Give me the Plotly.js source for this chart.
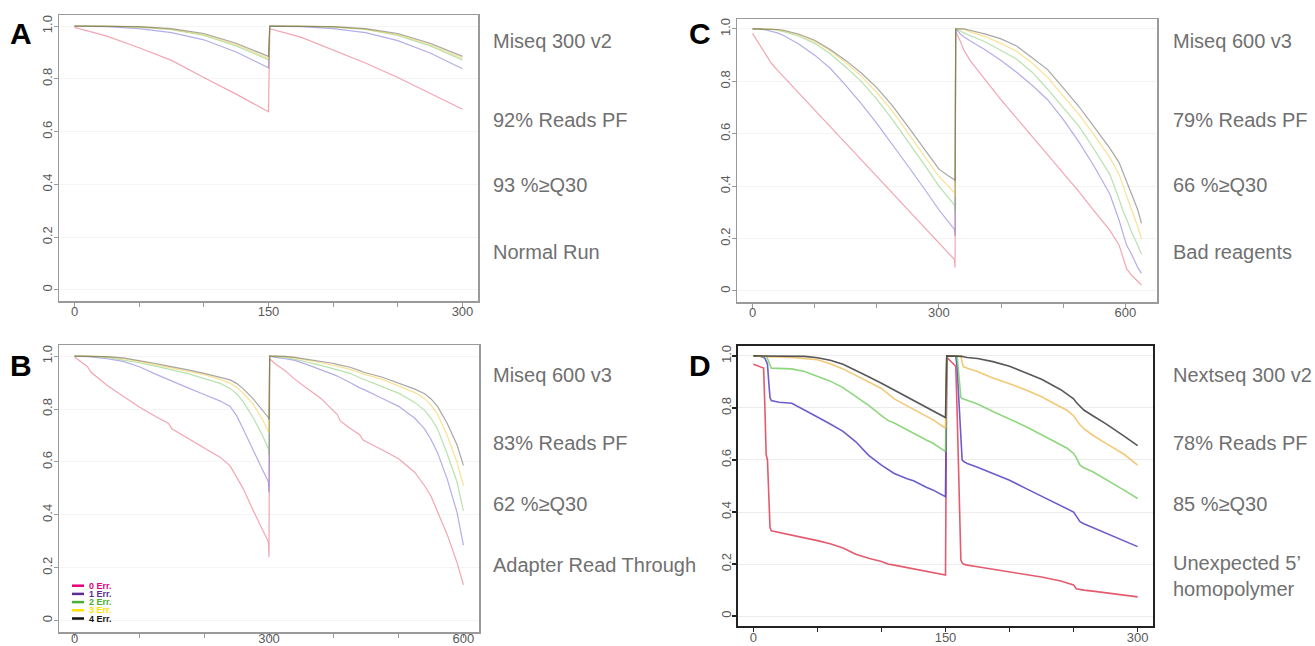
<!DOCTYPE html>
<html>
<head>
<meta charset="utf-8">
<script src="https://cdn.plot.ly/plotly-3.0.1.min.js"></script>
<style>html,body{margin:0;padding:0;background:#fff;}#chart{width:1315px;height:646px;}</style>
</head>
<body>
<div id="chart"></div>
<script>
// ---------- DATA ----------
const errLabels = ['0 Err.', '1 Err.', '2 Err.', '3 Err.', '4 Err.'];

// Panel A: Miseq 300 v2
const A_cycles = [0,25,50,75,100,125,150,151,175,200,225,250,275,300];
const A_err0 = [0.995,0.962,0.918,0.87,0.805,0.742,0.675,0.99,0.958,0.91,0.86,0.805,0.745,0.685];
const A_err1 = [1.0,0.998,0.99,0.975,0.948,0.902,0.842,1.0,0.998,0.99,0.975,0.945,0.898,0.838];
const A_err2 = [1.0,1.0,0.996,0.986,0.965,0.925,0.872,1.0,1.0,0.996,0.987,0.965,0.925,0.872];
const A_err3 = [1.0,1.0,0.997,0.988,0.968,0.93,0.878,1.0,1.0,0.997,0.988,0.968,0.93,0.878];
const A_err4 = [1.0,1.0,0.998,0.99,0.972,0.935,0.885,1.0,1.0,0.998,0.99,0.972,0.935,0.885];
const A_text = ['Miseq 300 v2', '92% Reads PF', '93 %≥Q30', 'Normal Run'];

// Panel B: Miseq 600 v3, adapter read through
const B_cycles = [0,10,20,25,50,75,100,125,145,150,175,200,225,240,250,260,275,290,299,300,301,310,325,340,360,380,400,405,410,425,440,445,475,500,525,540,550,560,575,590,600];
const B_err0 = [0.997,0.98,0.96,0.94,0.89,0.848,0.808,0.772,0.745,0.725,0.69,0.655,0.617,0.585,0.545,0.5,0.42,0.34,0.298,0.24,0.99,0.97,0.945,0.912,0.875,0.84,0.792,0.78,0.755,0.727,0.703,0.683,0.645,0.612,0.56,0.51,0.47,0.41,0.325,0.22,0.135];
const B_err1 = [1.0,1.0,0.998,0.997,0.99,0.98,0.96,0.932,0.91,0.905,0.88,0.855,0.83,0.81,0.775,0.725,0.645,0.57,0.525,0.485,1.0,0.995,0.99,0.984,0.967,0.95,0.93,0.925,0.918,0.9,0.88,0.875,0.84,0.81,0.765,0.725,0.685,0.635,0.535,0.41,0.285];
const B_err2 = [1.0,1.0,1.0,0.999,0.995,0.985,0.975,0.962,0.95,0.948,0.934,0.915,0.897,0.878,0.858,0.828,0.77,0.7,0.65,0.625,1.0,0.999,0.995,0.988,0.977,0.965,0.952,0.948,0.944,0.935,0.918,0.913,0.885,0.86,0.825,0.795,0.765,0.725,0.63,0.525,0.415];
const B_err3 = [1.0,1.0,1.0,1.0,0.997,0.99,0.98,0.968,0.957,0.955,0.943,0.93,0.912,0.897,0.882,0.86,0.82,0.76,0.715,0.71,1.0,1.0,0.998,0.993,0.985,0.975,0.965,0.962,0.958,0.95,0.937,0.933,0.912,0.888,0.862,0.84,0.815,0.78,0.7,0.6,0.51];
const B_err4 = [1.0,1.0,1.0,1.0,0.998,0.993,0.983,0.972,0.962,0.96,0.948,0.935,0.92,0.91,0.897,0.877,0.84,0.795,0.768,0.76,1.0,1.0,0.999,0.995,0.988,0.98,0.972,0.969,0.966,0.958,0.945,0.94,0.92,0.898,0.875,0.858,0.838,0.81,0.745,0.665,0.587];
const B_text = ['Miseq 600 v3', '83% Reads PF', '62 %≥Q30', 'Adapter Read Through'];

// Panel C: Miseq 600 v3, bad reagents
const C_cycles = [0,10,20,30,40,50,75,100,125,150,175,200,225,250,275,300,315,325,326,327,335,340,350,375,400,425,450,475,500,525,550,575,590,597,602,610,620,626];
const C_err0 = [0.983,0.945,0.905,0.87,0.843,0.818,0.754,0.69,0.627,0.564,0.5,0.437,0.374,0.31,0.247,0.183,0.145,0.12,0.09,0.99,0.95,0.92,0.88,0.803,0.729,0.66,0.59,0.52,0.45,0.38,0.305,0.232,0.175,0.125,0.085,0.06,0.038,0.023];
const C_err1 = [1.0,1.0,0.997,0.992,0.985,0.975,0.942,0.9,0.85,0.785,0.715,0.64,0.56,0.478,0.395,0.31,0.265,0.235,0.21,1.0,0.98,0.97,0.955,0.92,0.88,0.835,0.785,0.73,0.655,0.57,0.475,0.37,0.27,0.21,0.175,0.14,0.09,0.067];
const C_err2 = [1.0,1.0,1.0,0.998,0.995,0.99,0.972,0.945,0.905,0.855,0.8,0.732,0.655,0.572,0.487,0.4,0.355,0.328,0.3,1.0,0.992,0.985,0.975,0.95,0.918,0.885,0.835,0.77,0.7,0.63,0.54,0.445,0.35,0.3,0.275,0.225,0.175,0.14];
const C_err3 = [1.0,1.0,1.0,0.999,0.997,0.993,0.977,0.952,0.917,0.872,0.82,0.757,0.687,0.605,0.522,0.437,0.4,0.375,0.36,1.0,1.0,0.998,0.99,0.97,0.945,0.915,0.87,0.815,0.745,0.675,0.595,0.51,0.445,0.395,0.365,0.31,0.245,0.2];
const C_err4 = [1.0,1.0,1.0,1.0,0.998,0.995,0.98,0.957,0.922,0.88,0.832,0.776,0.707,0.628,0.547,0.465,0.44,0.425,0.42,1.0,1.0,1.0,0.995,0.98,0.962,0.935,0.89,0.845,0.775,0.705,0.625,0.545,0.49,0.45,0.42,0.37,0.31,0.258];
const C_text = ['Miseq 600 v3', '79% Reads PF', '66 %≥Q30', 'Bad reagents'];

// Panel D: Nextseq 300 v2, unexpected 5' homopolymer
const D_cycles = [0,4,8,9,10,11,12,13,14,20,30,40,50,60,70,80,90,100,105,110,120,125,135,140,150,151,155,158,159,160,161,162,163,164,166,167,175,187,200,213,225,240,245,250,252,255,258,265,275,290,300];
const D_err0 = [0.968,0.962,0.953,0.8,0.62,0.6,0.45,0.34,0.328,0.322,0.312,0.302,0.29,0.278,0.262,0.238,0.222,0.21,0.2,0.196,0.186,0.182,0.172,0.168,0.158,0.995,0.975,0.96,0.8,0.6,0.4,0.215,0.205,0.2,0.197,0.196,0.19,0.18,0.17,0.16,0.15,0.135,0.128,0.12,0.105,0.102,0.1,0.096,0.09,0.08,0.074];
const D_err1 = [1.0,1.0,0.995,0.99,0.98,0.968,0.9,0.84,0.828,0.822,0.818,0.79,0.765,0.738,0.71,0.67,0.618,0.58,0.563,0.548,0.528,0.52,0.495,0.485,0.459,1.0,1.0,1.0,0.96,0.88,0.8,0.7,0.6,0.595,0.588,0.586,0.572,0.548,0.522,0.49,0.46,0.425,0.413,0.4,0.385,0.363,0.355,0.34,0.32,0.287,0.267];
const D_err2 = [1.0,1.0,1.0,1.0,0.998,0.99,0.98,0.965,0.953,0.952,0.95,0.94,0.922,0.903,0.878,0.845,0.81,0.77,0.752,0.742,0.715,0.703,0.677,0.665,0.632,1.0,1.0,1.0,1.0,0.95,0.9,0.84,0.836,0.834,0.831,0.83,0.815,0.786,0.758,0.728,0.697,0.66,0.645,0.625,0.61,0.58,0.57,0.555,0.527,0.482,0.452];
const D_err3 = [1.0,1.0,1.0,1.0,0.998,0.997,0.997,0.997,0.996,0.996,0.994,0.99,0.985,0.97,0.95,0.925,0.9,0.875,0.855,0.835,0.808,0.795,0.768,0.755,0.722,1.0,1.0,1.0,1.0,1.0,1.0,1.0,0.975,0.958,0.955,0.952,0.94,0.915,0.893,0.869,0.843,0.805,0.79,0.77,0.755,0.735,0.72,0.695,0.665,0.62,0.58];
const D_err4 = [1.0,1.0,1.0,1.0,1.0,1.0,1.0,1.0,1.0,1.0,1.0,0.998,0.993,0.983,0.968,0.945,0.92,0.895,0.882,0.87,0.843,0.83,0.803,0.79,0.763,1.0,1.0,1.0,1.0,1.0,1.0,1.0,0.998,0.997,0.995,0.994,0.99,0.978,0.96,0.935,0.91,0.87,0.852,0.835,0.822,0.805,0.792,0.77,0.74,0.69,0.655];
const D_text = ['Nextseq 300 v2', '78% Reads PF', '85 %≥Q30', 'Unexpected 5’<br>homopolymer'];

const yTickVals = [0, 0.2, 0.4, 0.6, 0.8, 1.0];
const yTickText = ['0', '0.2', '0.4', '0.6', '0.8', '1.0'];

// ---------- STYLE ----------
const W = 1315, H = 646;
const FONT = 'Liberation Sans, Arial, sans-serif';
const paleColors = ['rgba(228,70,95,0.48)', 'rgba(95,85,205,0.48)', 'rgba(105,195,85,0.48)', 'rgba(245,200,60,0.55)', 'rgba(80,80,80,0.5)'];
const strongColors = ['rgba(222,62,85,0.85)', 'rgba(85,72,195,0.88)', 'rgba(115,205,95,0.8)', 'rgba(240,192,95,0.85)', 'rgba(65,65,65,0.88)'];
const legendColors = ['#e5007d', '#5c2d91', '#4cae32', '#ffe100', '#111111'];

function xd(a, b) { return [a / W, b / W]; }
function yd(top, bottom) { return [1 - bottom / H, 1 - top / H]; }

const panels = [
  { id: '', cycles: A_cycles, series: [A_err0, A_err1, A_err2, A_err3, A_err4], colors: paleColors, lw: 1.2,
    xr: [-12, 312], yr: [-0.042, 1.042], xdom: xd(59, 478), ydom: yd(15, 301),
    xtv: [0, 50, 100, 150, 200, 250, 300], xtt: ['0', '', '', '150', '', '', '300'], xso: -6,
    frame: '#9a9a9a', fw: 1.5, grid: '#f4f4f4',
    letter: 'A', lx: 21, ly: 34, text: A_text, tx: 491, ty: [41, 120, 185, 252] },
  { id: '2', cycles: B_cycles, series: [B_err0, B_err1, B_err2, B_err3, B_err4], colors: paleColors, lw: 1.2,
    xr: [-24, 624], yr: [-0.043, 1.042], xdom: xd(59, 479), ydom: yd(345, 632),
    xtv: [0, 100, 200, 300, 400, 500, 600], xtt: ['0', '', '', '300', '', '', '600'], xso: -10,
    frame: '#9a9a9a', fw: 1.5, grid: '#f4f4f4',
    letter: 'B', lx: 21, ly: 365, text: B_text, tx: 491, ty: [375, 443, 504, 565] },
  { id: '3', cycles: C_cycles, series: [C_err0, C_err1, C_err2, C_err3, C_err4], colors: paleColors, lw: 1.2,
    xr: [-25, 651], yr: [-0.042, 1.038], xdom: xd(737, 1157), ydom: yd(19, 302),
    xtv: [0, 100, 200, 300, 400, 500, 600], xtt: ['0', '', '', '300', '', '', '600'], xso: -6,
    frame: '#9a9a9a', fw: 1.5, grid: '#f4f4f4',
    letter: 'C', lx: 700, ly: 34, text: C_text, tx: 1171, ty: [41, 120, 185, 252] },
  { id: '4', cycles: D_cycles, series: [D_err0, D_err1, D_err2, D_err3, D_err4], colors: strongColors, lw: 1.6,
    xr: [-12, 312], yr: [-0.038, 1.038], xdom: xd(738, 1153), ydom: yd(346, 626),
    xtv: [0, 50, 100, 150, 200, 250, 300], xtt: ['0', '', '', '150', '', '', '300'], xso: -6,
    frame: '#222222', fw: 2, grid: '#ececec',
    letter: 'D', lx: 700, ly: 365, text: D_text, tx: 1171, ty: [375, 443, 504, 576] }
];

const traces = [];
const layout = {
  width: W, height: H, autosize: false,
  margin: { l: 0, r: 0, t: 0, b: 0, pad: 0 },
  paper_bgcolor: '#ffffff', plot_bgcolor: '#ffffff',
  showlegend: false,
  font: { family: FONT, color: '#5c5c5c' },
  annotations: [], shapes: []
};

panels.forEach(p => {
  p.series.forEach((ys, i) => {
    traces.push({
      type: 'scatter', mode: 'lines', x: p.cycles, y: ys,
      xaxis: 'x' + p.id, yaxis: 'y' + p.id, name: errLabels[i],
      line: { color: p.colors[i], width: p.lw }, hoverinfo: 'skip'
    });
  });
  layout['xaxis' + p.id] = {
    domain: p.xdom, range: p.xr, anchor: 'y' + p.id,
    showgrid: false, zeroline: false,
    showline: true, mirror: true, linecolor: p.frame, linewidth: p.fw,
    ticks: 'outside', ticklen: 4, tickwidth: p.fw === 2 ? 1.5 : 1, tickcolor: p.frame,
    tickmode: 'array', tickvals: p.xtv, ticktext: p.xtt, ticklabelstandoff: p.xso,
    tickfont: { family: FONT, size: 13, color: '#5a5a5a' }
  };
  layout['yaxis' + p.id] = {
    domain: p.ydom, range: p.yr, anchor: 'x' + p.id,
    showgrid: true, gridcolor: p.grid, gridwidth: 1, zeroline: false,
    showline: true, mirror: true, linecolor: p.frame, linewidth: p.fw,
    ticks: 'outside', ticklen: 4, tickwidth: p.fw === 2 ? 1.5 : 1, tickcolor: p.frame,
    tickmode: 'array', tickvals: yTickVals, ticktext: yTickText, tickangle: -90, ticklabelstandoff: -4,
    tickfont: { family: FONT, size: 13, color: '#5a5a5a' }
  };
  layout.annotations.push({
    xref: 'paper', yref: 'paper', x: p.lx / W, y: 1 - p.ly / H,
    xanchor: 'center', yanchor: 'middle', showarrow: false,
    text: '<b>' + p.letter + '</b>', font: { family: FONT, size: 30, color: '#000' }
  });
  p.text.forEach((t, k) => {
    layout.annotations.push({
      xref: 'paper', yref: 'paper', x: p.tx / W, y: 1 - p.ty[k] / H,
      xanchor: 'left', yanchor: 'middle', align: 'left', showarrow: false,
      text: t, font: { family: FONT, size: 20, color: '#707070' }
    });
  });
});

// Legend (inside panel B)
const legY = [585.7, 593.9, 602.1, 610.3, 618.5];
errLabels.forEach((lab, i) => {
  layout.shapes.push({
    type: 'line', xref: 'paper', yref: 'paper',
    x0: 72 / W, x1: 84 / W, y0: 1 - legY[i] / H, y1: 1 - legY[i] / H,
    line: { color: legendColors[i], width: 2.5 }
  });
  layout.annotations.push({
    xref: 'paper', yref: 'paper', x: 87 / W, y: 1 - legY[i] / H,
    xanchor: 'left', yanchor: 'middle', showarrow: false,
    text: '<b>' + lab + '</b>', font: { family: FONT, size: 9, color: legendColors[i] }
  });
});

Plotly.newPlot('chart', traces, layout, { staticPlot: true, displayModeBar: false });
</script>
</body>
</html>
